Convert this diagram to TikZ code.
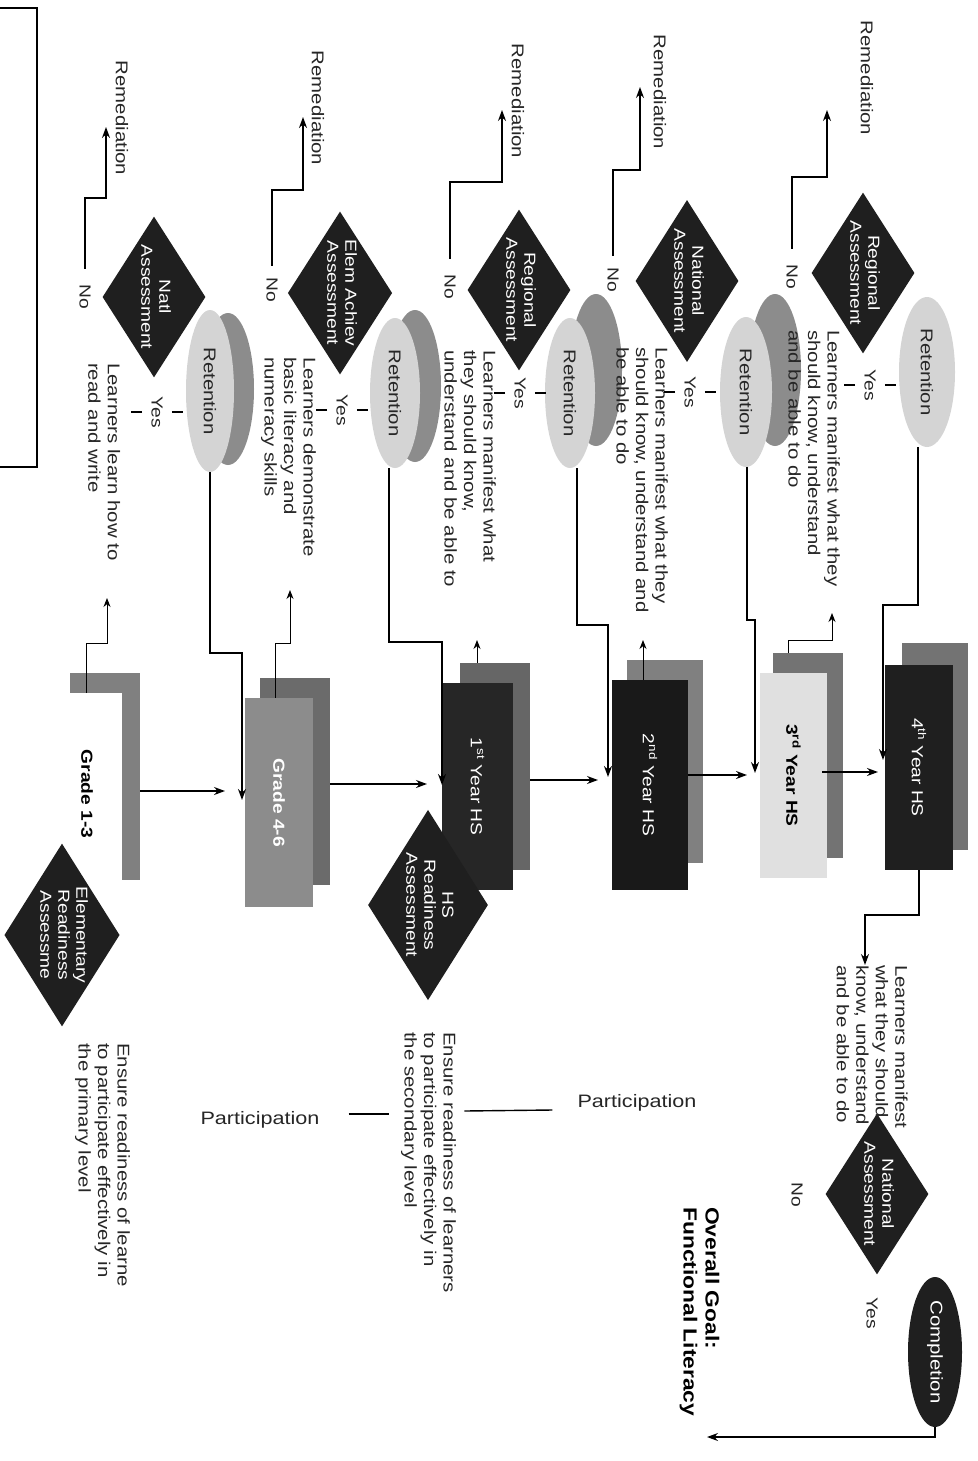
\documentclass[tikz,border=0pt]{standalone}
\usepackage{fontspec}
\setmainfont{Liberation Sans}[FakeStretch=1.2]
\usepackage{graphicx}
\usetikzlibrary{shapes.geometric,arrows.meta}
\newcommand\vtxt[1]{\rotatebox{-90}{\begin{tabular}{@{}l@{}}#1\end{tabular}}}
\newcommand\vctr[1]{\rotatebox{-90}{\begin{tabular}{@{}c@{}}#1\end{tabular}}}
\begin{document}
\begin{tikzpicture}[x=1pt,y=-1pt,
  every node/.style={inner sep=0pt},
  txt/.style={font=\fontsize{17pt}{19.5pt}\selectfont, text=black!85},
  yn/.style={font=\fontsize{16pt}{18pt}\selectfont, text=black!85},
  dia/.style={diamond, fill=black!88, text=white, shape aspect=0.64, minimum width=102pt, minimum height=160pt, font=\fontsize{16pt}{18pt}\selectfont},
  ret/.style={ellipse, fill=black!17, minimum width=50pt, minimum height=150pt, font=\fontsize{17pt}{19pt}\selectfont, text=black!85},
  retsh/.style={ellipse, fill=black!45, minimum width=52pt, minimum height=152pt},
  lbl/.style={font=\fontsize{16pt}{18pt}\selectfont},
  blbl/.style={font=\bfseries\fontsize{16pt}{18pt}\selectfont},
  arr/.style={draw, line width=1.4pt, -{Stealth[length=11pt,width=8pt]}},
  sarr/.style={draw, line width=1pt, -{Stealth[length=9pt,width=7pt]}},
  ln/.style={draw, line width=1.4pt},
  tick/.style={draw, line width=1.2pt}
]
\useasboundingbox (0,0) rectangle (977,1461);

% frame at top left
\draw[line width=1.2pt] (0,8) -- (37,8) -- (37,467) -- (0,467);

% ---------- grade boxes ----------
\node[fill=black!50, minimum width=70pt, minimum height=207pt] (g13b) at (105,776.5) {};
\node[fill=white, minimum width=70pt, minimum height=202pt, blbl] (g13) at (87,794) {\rotatebox{-90}{Grade 1-3}};

\node[fill=black!58, minimum width=70pt, minimum height=207pt] (g46b) at (295,781.5) {};
\node[fill=black!45, minimum width=68pt, minimum height=209pt, blbl, text=white] (g46) at (279,802.5) {\rotatebox{-90}{Grade 4-6}};

\node[fill=black!60, minimum width=70pt, minimum height=207pt] (hs1b) at (495,766.5) {};
\node[fill=black!85, minimum width=71pt, minimum height=207pt, lbl, text=white] (hs1) at (477.5,786.5) {\rotatebox{-90}{1\textsuperscript{st} Year HS}};

\node[fill=black!50, minimum width=76pt, minimum height=203pt] (hs2b) at (665,761.5) {};
\node[fill=black!90, minimum width=76pt, minimum height=210pt, lbl, text=white] (hs2) at (650,785) {\rotatebox{-90}{2\textsuperscript{nd} Year HS}};

\node[fill=black!55, minimum width=70pt, minimum height=205pt] (hs3b) at (808,755.5) {};
\node[fill=black!12, minimum width=67pt, minimum height=205pt, blbl] (hs3) at (793.5,775.5) {\rotatebox{-90}{3\textsuperscript{rd} Year HS}};

\node[fill=black!55, minimum width=66pt, minimum height=207pt] (hs4b) at (935,746.5) {};
\node[fill=black!88, minimum width=68pt, minimum height=205pt, lbl, text=white] (hs4) at (919,767.5) {\rotatebox{-90}{4\textsuperscript{th} Year HS}};

% ---------- retention ellipses ----------
\node[retsh] (r1s) at (228,389) {};
\node[ret, minimum width=48pt, minimum height=162pt] (r1) at (210,391) {\rotatebox{-90}{Retention}};
\node[retsh] (r2s) at (415,386) {};
\node[ret] (r2) at (395,393) {\rotatebox{-90}{Retention}};
\node[retsh] (r3s) at (596,370) {};
\node[ret] (r3) at (570,393) {\rotatebox{-90}{Retention}};
\node[retsh] (r4s) at (775,370) {};
\node[ret, minimum width=52pt] (r4) at (746,392) {\rotatebox{-90}{Retention}};
\node[ret, minimum width=56pt] (r5) at (927,372) {\rotatebox{-90}{Retention}};

% ---------- assessment diamonds ----------
\node[dia] (d1) at (154,297) {\vctr{Natl\\Assessment}};
\node[dia] (d2) at (340,293) {\vctr{Elem Achiev\\Assessment}};
\node[dia, minimum width=100pt] (d3) at (519,290) {\vctr{Regional\\Assessment}};
\node[dia, minimum height=162pt] (d4) at (687,281) {\vctr{National\\Assessment}};
\node[dia] (d5) at (863,273) {\vctr{Regional\\Assessment}};
\node[dia, minimum width=100pt, minimum height=155pt] (d6) at (877,1194) {\vctr{National\\Assessment}};
\node[dia, minimum width=115pt, minimum height=182pt, shape aspect=0.63] (de) at (62,935) {\vctr{Elementary\\Readiness\\Assessme}};
\node[dia, minimum width=115pt, minimum height=178pt, shape aspect=0.63] (dh) at (428,905) {\vctr{HS\\Readiness\\Assessment}};

% ---------- yes / no ----------
\node[yn] (n1) at (85,297) {\rotatebox{-90}{No}};
\node[yn] (n2) at (272,290) {\rotatebox{-90}{No}};
\node[yn] (n3) at (450,287) {\rotatebox{-90}{No}};
\node[yn] (n4) at (613,280) {\rotatebox{-90}{No}};
\node[yn] (n5) at (792,277) {\rotatebox{-90}{No}};
\node[yn] (n6) at (797,1195) {\rotatebox{-90}{No}};
\node[yn] (y1) at (157,412) {\rotatebox{-90}{Yes}};
\node[yn] (y2) at (342,410) {\rotatebox{-90}{Yes}};
\node[yn] (y3) at (520,393) {\rotatebox{-90}{Yes}};
\node[yn] (y4) at (690,392) {\rotatebox{-90}{Yes}};
\node[yn] (y5) at (870,385) {\rotatebox{-90}{Yes}};
\node[yn] (y6) at (872,1313) {\rotatebox{-90}{Yes}};

\foreach \n in {y1,y2,y3,y4,y5}{
  \draw[tick] ([xshift=9pt]\n.east) -- ++(11,0);
  \draw[tick] ([xshift=-9pt]\n.west) -- ++(-11,0);
}

% ---------- remediation ----------
\node[txt] (m1) at (122,118) {\rotatebox{-90}{Remediation}};
\node[txt] (m2) at (318,108) {\rotatebox{-90}{Remediation}};
\node[txt] (m3) at (518,101) {\rotatebox{-90}{Remediation}};
\node[txt] (m4) at (660,92) {\rotatebox{-90}{Remediation}};
\node[txt] (m5) at (867,78) {\rotatebox{-90}{Remediation}};

\coordinate (rc1) at (106,198); \coordinate (rt1) at (106,127);
\coordinate (rc2) at (303,190); \coordinate (rt2) at (303,117);
\coordinate (rc3) at (502,182); \coordinate (rt3) at (502,110);
\coordinate (rc4) at (640,170); \coordinate (rt4) at (640,87);
\coordinate (rc5) at (827,177); \coordinate (rt5) at (827,110);
\draw[arr] ([yshift=16pt]n1.north) |- (rc1) -- (rt1);
\draw[arr] ([yshift=12pt]n2.north) |- (rc2) -- (rt2);
\draw[arr] ([yshift=16pt]n3.north) |- (rc3) -- (rt3);
\draw[arr] ([yshift=12pt]n4.north) |- (rc4) -- (rt4);
\draw[arr] ([yshift=16pt]n5.north) |- (rc5) -- (rt5);

% ---------- learner texts ----------
\node[txt, anchor=north] (l1) at (102,363) {\vtxt{Learners learn how to\\read and write}};
\node[txt, anchor=north] (l2) at (288,357) {\vtxt{Learners demonstrate\\basic literacy and\\numeracy skills}};
\node[txt, anchor=north] (l3) at (468,350) {\vtxt{Learners manifest what\\they should know,\\understand and be able to}};
\node[txt, anchor=north] (l4) at (640,347) {\vtxt{Learners manifest what they\\should know, understand and\\be able to do}};
\node[txt, anchor=north] (l5) at (812,330) {\vtxt{Learners manifest what they\\should know, understand\\and be able to do}};
\node[txt, anchor=north] (l6) at (870,965) {\vtxt{Learners manifest\\what they should\\know, understand\\and be able to do}};

% ---------- box to learner-text arrows ----------
\draw[sarr] (g13.north -| 86,0) |- (107,643) -- (107,598);
\draw[sarr] (g46.north -| 275,0) |- (290,643) -- (290,590);
\draw[sarr] (hs1b.north -| 477,0) -- (477,640);
\draw[sarr] (hs2.north -| 643,0) -- (643,640);
\draw[sarr] (hs3b.north -| 788,0) |- (832,640) -- (832,613);
\draw[arr] (hs4.south) |- (865,915) -- (l6.north -| 865,0);

% ---------- retention to next level ----------
\coordinate (e1) at (242,800);
\coordinate (e2) at (442,785);
\coordinate (e3) at (608,777);
\coordinate (e4) at (755,773);
\coordinate (e5) at (883,760);
\draw[arr] (r1.south) |- (e1 |- 0,653) -- (e1);
\draw[arr] (r2.south -| 389,0) |- (e2 |- 0,642) -- (e2);
\draw[arr] (r3.south -| 577,0) |- (e3 |- 0,625) -- (e3);
\draw[arr] (r4.south -| 747,0) |- (e4 |- 0,620) -- (e4);
\draw[arr] (r5.south -| 918,0) |- (e5 |- 0,605) -- (e5);

% ---------- main flow ----------
\coordinate (f1) at (225,791);
\coordinate (f2) at (427,784);
\coordinate (f3) at (598,780);
\coordinate (f4) at (747,775);
\coordinate (f5) at (878,772);
\draw[arr] (g13b.east |- f1) -- (f1);
\draw[arr] (g46b.east |- f2) -- (f2);
\draw[arr] (hs1b.east |- f3) -- (f3);
\draw[arr] (hs2.east |- f4) -- (f4);
\draw[arr] ([xshift=-5pt]hs3.east |- f5) -- (f5);

% ---------- readiness texts ----------
\node[txt, anchor=north] (t1) at (102,1043) {\vtxt{Ensure readiness of learne\\to participate effectively in\\the primary level}};
\node[txt, anchor=north] (t2) at (428,1032) {\vtxt{Ensure readiness of learners\\to participate effectively in\\the secondary level}};
\node[font=\fontsize{18pt}{20pt}\selectfont, text=black!85] (p1) at (260,1120) {Participation};
\node[font=\fontsize{18pt}{20pt}\selectfont, text=black!85] (p2) at (637,1103) {Participation};
\draw[ln] ([xshift=29pt,yshift=6pt]p1.east) -- ([xshift=-10pt]t2.west |- 0,1114);
\draw[ln] ([xshift=7pt]t2.east |- 0,1111) -- ([xshift=-25pt,yshift=-7pt]p2.west);

% ---------- completion ----------
\node[ellipse, fill=black!88, text=white, minimum width=54pt, minimum height=150pt, font=\fontsize{17pt}{19pt}\selectfont] (comp) at (935,1352) {\rotatebox{-90}{Completion}};
\node[font=\bfseries\fontsize{19pt}{22pt}\selectfont, anchor=north] (goal) at (699,1207) {\vtxt{Overall Goal:\\Functional Literacy}};
\coordinate (garr) at (707,1437);
\draw[arr] (comp.south) |- (garr);
\end{tikzpicture}
\end{document}
